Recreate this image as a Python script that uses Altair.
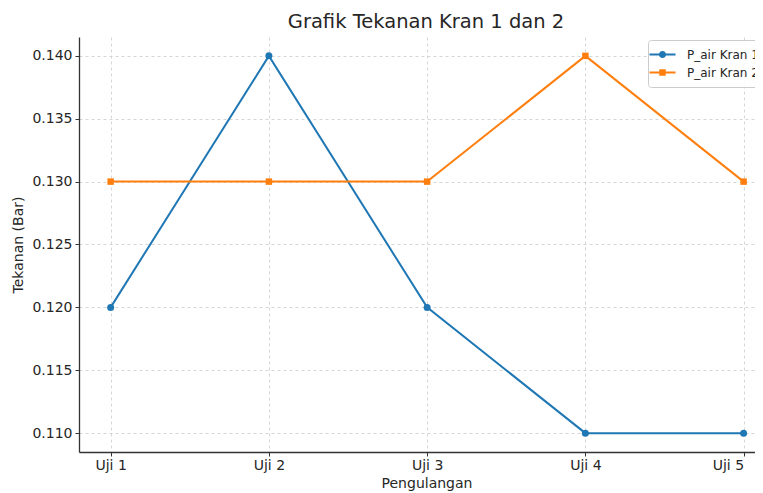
import altair as alt
import pandas as pd

categories = ["Uji 1", "Uji 2", "Uji 3", "Uji 4", "Uji 5"]
series_names = ["P_air Kran 1", "P_air Kran 2"]
kran1 = [0.120, 0.140, 0.120, 0.110, 0.110]
kran2 = [0.130, 0.130, 0.130, 0.140, 0.130]
y_ticks = [0.110, 0.115, 0.120, 0.125, 0.130, 0.135, 0.140]

rows = []
for name, vals in zip(series_names, [kran1, kran2]):
    for i, (c, v) in enumerate(zip(categories, vals)):
        rows.append({"idx": i, "Uji": c, "series": name, "value": v})
df = pd.DataFrame(rows)

FONT = "DejaVu Sans"
TXT = "#262626"
colors = ["#1f77b4", "#ff7f0e"]

label_expr = "[" + ",".join("'%s'" % c for c in categories) + "][datum.value]"

circle_path = ("M-2,-0.16H2V0.16H-2Z "
               "M-0.55,0A0.55,0.55 0 1,1 0.55,0A0.55,0.55 0 1,1 -0.55,0Z")
square_path = "M-2,-0.16H2V0.16H-2Z M-0.5,-0.5H0.5V0.5H-0.5Z"

x_enc = alt.X(
    "idx:Q",
    scale=alt.Scale(domain=[-0.2, 4.072], nice=False, zero=False),
    axis=alt.Axis(
        title="Pengulangan", values=list(range(len(categories))),
        labelExpr=label_expr, grid=True, gridDash=[3, 3], gridColor="#cccccc",
        gridWidth=0.8, domainColor="#333333", domainWidth=1.3,
        tickColor="#333333", tickSize=4, labelPadding=2, titlePadding=4,
        labelFont=FONT, labelFontSize=14, labelColor=TXT,
        titleFont=FONT, titleFontSize=14, titleFontWeight="normal", titleColor=TXT,
        labelFlush=15, titleX=347.5,
    ),
)
y_enc = alt.Y(
    "value:Q",
    scale=alt.Scale(domain=[0.1085, 0.1415], nice=False, zero=False),
    axis=alt.Axis(
        title="Tekanan (Bar)", values=y_ticks, format=".3f",
        grid=True, gridDash=[3, 3], gridColor="#cccccc", gridWidth=0.8,
        domainColor="#333333", domainWidth=1.3, tickColor="#333333", tickSize=4,
        labelPadding=3, titlePadding=6,
        labelFont=FONT, labelFontSize=14, labelColor=TXT,
        titleFont=FONT, titleFontSize=14, titleFontWeight="normal", titleColor=TXT,
    ),
)
color_scale = alt.Scale(domain=series_names, range=colors)
color_plain = alt.Color("series:N", scale=color_scale, legend=None)

legend_props = dict(
    title=None, orient="none", legendX=569, legendY=3,
    labelFont=FONT, labelFontSize=12, labelColor=TXT,
    symbolSize=169, symbolStrokeWidth=0, symbolOpacity=1,
    labelOffset=18, rowPadding=5,
    padding=8, strokeColor="#cccccc", fillColor="rgba(255,255,255,0.85)",
    cornerRadius=3,
)

base = alt.Chart(df)
legend_layer = base.mark_point(filled=True, size=169, opacity=0).encode(
    x=x_enc, y=y_enc,
    color=alt.Color("series:N", scale=color_scale, legend=alt.Legend(**legend_props)),
    shape=alt.Shape("series:N",
                    scale=alt.Scale(domain=series_names, range=[circle_path, square_path]),
                    legend=alt.Legend(**legend_props)),
)
lines = base.mark_line(strokeWidth=2).encode(
    x=x_enc, y=y_enc, color=color_plain, detail="series:N"
)
pts1 = base.transform_filter(alt.datum.series == series_names[0]).mark_point(
    filled=True, size=49, opacity=1, shape="circle"
).encode(x=x_enc, y=y_enc, color=color_plain)
pts2 = base.transform_filter(alt.datum.series == series_names[1]).mark_point(
    filled=True, size=42, opacity=1, shape="square"
).encode(x=x_enc, y=y_enc, color=color_plain)

chart = alt.layer(legend_layer, lines, pts1, pts2).properties(
    width=676, height=415,
    autosize=alt.AutoSizeParams(type="none"),
    padding={"left": 71, "top": 29, "right": 0, "bottom": 40},
    view=alt.ViewBackground(strokeWidth=0, strokeOpacity=0),
    title=alt.TitleParams(
        "Grafik Tekanan Kran 1 dan 2", font=FONT, fontSize=19.5, fontWeight="normal",
        color=TXT, anchor="middle", baseline="alphabetic", offset=6, dx=9, dy=16,
    ),
).configure_view(strokeWidth=0, strokeOpacity=0).configure(background="white")

chart.save("out.html", embed_options={"renderer": "svg", "actions": False})
